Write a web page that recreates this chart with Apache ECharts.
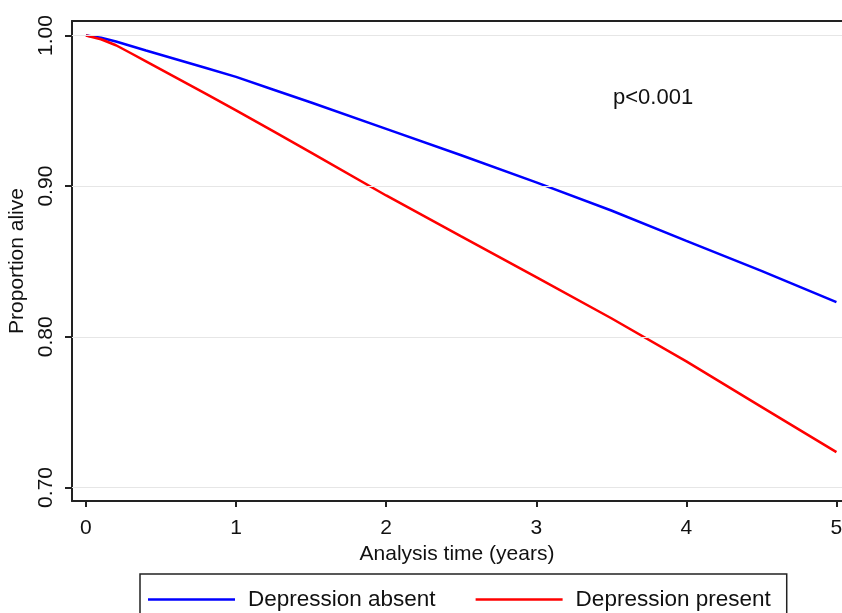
<!DOCTYPE html>
<html>
<head>
<meta charset="utf-8">
<script src="https://cdn.jsdelivr.net/npm/echarts@6/dist/echarts.min.js"></script>
<style>html,body{margin:0;padding:0;background:#fff;}#main{width:842px;height:613px;}</style>
</head>
<body>
<div id="main"></div>
<script>
const years = [0, 0.1, 0.2, 0.3, 0.4, 0.6, 0.8, 1.0, 1.25, 1.5, 2.0, 2.5, 3.0, 3.5, 4.0, 4.5, 5.0];
const absent = [1.000, 0.9985, 0.9960, 0.9930, 0.9900, 0.9842, 0.9784, 0.9725, 0.9640, 0.9555, 0.938, 0.9205, 0.9025, 0.8838, 0.8637, 0.8438, 0.823];
const present = [1.000, 0.9975, 0.9935, 0.9882, 0.9828, 0.9720, 0.9612, 0.9503, 0.9363, 0.9222, 0.8938, 0.8666, 0.8396, 0.8123, 0.7837, 0.7535, 0.7234];
const xTicks = [0, 1, 2, 3, 4, 5];
const yTicks = [0.70, 0.80, 0.90, 1.00];
const seriesNames = ['Depression absent', 'Depression present'];
const pText = 'p<0.001';

const font = '"Liberation Sans", Arial, sans-serif';
const axisCol = '#222';
const chart = echarts.init(document.getElementById('main'));
chart.setOption({
  animation: false,
  backgroundColor: '#fff',
  grid: { left: 72, top: 21, right: 0, bottom: 112, containLabel: false, outerBoundsMode: 'none' },
  xAxis: [{
    type: 'value', min: -0.093, max: 5.037,
    name: 'Analysis time (years)', nameLocation: 'middle', nameGap: 31,
    nameTextStyle: { fontFamily: font, fontSize: 21, color: '#111' },
    axisLine: { show: true, onZero: false, lineStyle: { color: axisCol, width: 2 } },
    axisTick: { show: true, inside: false, length: 6, customValues: xTicks, lineStyle: { color: axisCol, width: 2 } },
    axisLabel: { customValues: xTicks, margin: 17, fontFamily: font, fontSize: 21, color: '#111', formatter: v => String(v) },
    splitLine: { show: false }
  }, {
    type: 'value', position: 'top', min: -0.093, max: 5.037,
    axisLine: { show: true, onZero: false, lineStyle: { color: axisCol, width: 2 } },
    axisTick: { show: false }, axisLabel: { show: false }, splitLine: { show: false }
  }],
  yAxis: {
    type: 'value', min: 0.691, max: 1.0096,
    name: 'Proportion alive', nameLocation: 'middle', nameGap: 44,
    nameTextStyle: { fontFamily: font, fontSize: 21, color: '#111' },
    axisLine: { show: true, onZero: false, lineStyle: { color: axisCol, width: 2 } },
    axisTick: { show: true, inside: false, length: 7, customValues: yTicks, lineStyle: { color: axisCol, width: 2 } },
    axisLabel: { customValues: yTicks, rotate: 90, margin: 15, fontFamily: font, fontSize: 21, color: '#111', formatter: v => v.toFixed(2) },
    splitLine: { show: false }
  },
  legend: {
    data: seriesNames,
    left: 140, top: 574,
    orient: 'horizontal',
    icon: 'rect',
    itemWidth: 87, itemHeight: 2.5, itemGap: 40,
    padding: [14, 16, 30, 8],
    borderColor: '#222', borderWidth: 1.5,
    textStyle: { fontFamily: font, fontSize: 22.5, color: '#111', padding: [0, 0, 0, 8] }
  },
  graphic: [
    { type: 'text', left: 613, top: 87, style: { text: pText, font: '22px ' + font, fill: '#111' } }
  ],
  series: [
    {
      type: 'line', name: '_grid', data: [], silent: true, z: 1,
      markLine: {
        silent: true, symbol: 'none', label: { show: false },
        lineStyle: { color: '#e6e6e6', width: 1.2, type: 'solid' },
        data: yTicks.map(v => ({ yAxis: v }))
      }
    },
    {
      type: 'line', name: seriesNames[0], data: years.map((t, i) => [t, absent[i]]),
      symbol: 'none', smooth: false, z: 3,
      lineStyle: { color: '#0000ff', width: 2.5 }, itemStyle: { color: '#0000ff' }
    },
    {
      type: 'line', name: seriesNames[1], data: years.map((t, i) => [t, present[i]]),
      symbol: 'none', smooth: false, z: 3,
      lineStyle: { color: '#ff0000', width: 2.5 }, itemStyle: { color: '#ff0000' }
    }
  ]
});
</script>
</body>
</html>
